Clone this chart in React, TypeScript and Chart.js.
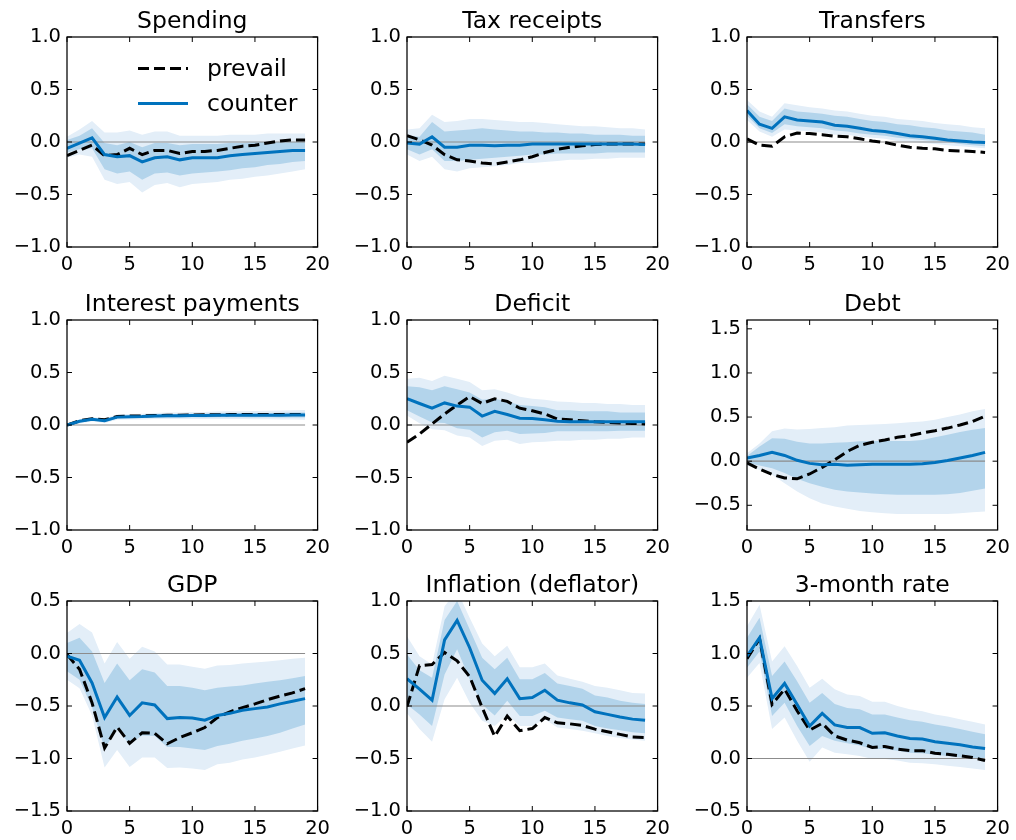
import React, { useEffect, useRef } from 'react';
import { Chart, registerables } from 'chart.js';

Chart.register(...registerables);

// Horizon (quarters after the shock)
const horizons = [0, 1, 2, 3, 4, 5, 6, 7, 8, 9, 10, 11, 12, 13, 14, 15, 16, 17, 18, 19];
const xTicks = [0, 5, 10, 15, 20];
const baseline = 0;

// Spending
const spendPrevail = [-0.13, -0.08, -0.03, -0.13, -0.12, -0.06, -0.12, -0.08, -0.08, -0.11, -0.09, -0.09, -0.08, -0.06, -0.04, -0.03, -0.01, 0.01, 0.02, 0.02];
const spendCounter = [-0.06, -0.01, 0.04, -0.12, -0.14, -0.13, -0.19, -0.15, -0.14, -0.17, -0.15, -0.15, -0.15, -0.13, -0.12, -0.11, -0.1, -0.09, -0.08, -0.08];
const spendHi90 = [0.05, 0.12, 0.2, 0.09, 0.09, 0.11, 0.07, 0.1, 0.1, 0.06, 0.06, 0.06, 0.06, 0.07, 0.07, 0.07, 0.08, 0.08, 0.08, 0.08];
const spendLo90 = [-0.15, -0.12, -0.14, -0.36, -0.4, -0.38, -0.48, -0.41, -0.39, -0.43, -0.4, -0.39, -0.38, -0.36, -0.35, -0.33, -0.32, -0.3, -0.28, -0.26];
const spendHi68 = [0.02, 0.06, 0.13, -0.01, -0.03, 0.0, -0.05, -0.01, -0.01, -0.03, -0.02, -0.02, -0.02, -0.01, -0.01, 0.0, 0.0, 0.0, 0.0, 0.0];
const spendLo68 = [-0.1, -0.07, -0.06, -0.26, -0.3, -0.28, -0.36, -0.3, -0.29, -0.32, -0.3, -0.29, -0.28, -0.27, -0.25, -0.24, -0.22, -0.21, -0.19, -0.18];

// Tax receipts
const taxPrevail = [0.06, 0.02, -0.03, -0.12, -0.17, -0.18, -0.2, -0.21, -0.19, -0.17, -0.14, -0.1, -0.07, -0.05, -0.035, -0.025, -0.02, -0.02, -0.02, -0.02];
const taxCounter = [-0.01, -0.02, 0.05, -0.05, -0.05, -0.03, -0.03, -0.035, -0.03, -0.03, -0.02, -0.02, -0.02, -0.02, -0.02, -0.02, -0.02, -0.02, -0.02, -0.025];
const taxHi90 = [0.12, 0.13, 0.26, 0.19, 0.2, 0.22, 0.22, 0.21, 0.2, 0.19, 0.19, 0.18, 0.17, 0.16, 0.15, 0.15, 0.14, 0.13, 0.13, 0.12];
const taxLo90 = [-0.12, -0.18, -0.14, -0.26, -0.28, -0.25, -0.24, -0.23, -0.22, -0.2, -0.2, -0.19, -0.18, -0.17, -0.17, -0.16, -0.16, -0.15, -0.15, -0.15];
const taxHi68 = [0.06, 0.05, 0.19, 0.1, 0.11, 0.12, 0.13, 0.12, 0.11, 0.1, 0.1, 0.09, 0.09, 0.08, 0.08, 0.07, 0.07, 0.07, 0.06, 0.06];
const taxLo68 = [-0.07, -0.12, -0.07, -0.18, -0.18, -0.17, -0.16, -0.15, -0.14, -0.13, -0.12, -0.12, -0.11, -0.11, -0.11, -0.11, -0.1, -0.1, -0.1, -0.1];

// Transfers
const trPrevail = [0.03, -0.03, -0.04, 0.05, 0.085, 0.08, 0.07, 0.055, 0.05, 0.03, 0.01, -0.005, -0.03, -0.05, -0.06, -0.065, -0.08, -0.085, -0.09, -0.1];
const trCounter = [0.3, 0.17, 0.13, 0.24, 0.21, 0.2, 0.19, 0.16, 0.15, 0.13, 0.11, 0.1, 0.08, 0.06, 0.05, 0.035, 0.02, 0.01, 0.0, -0.005];
const trHi90 = [0.4, 0.29, 0.24, 0.37, 0.35, 0.33, 0.32, 0.3, 0.29, 0.27, 0.25, 0.24, 0.22, 0.21, 0.2, 0.18, 0.17, 0.16, 0.14, 0.13];
const trLo90 = [0.21, 0.1, 0.05, 0.12, 0.11, 0.1, 0.09, 0.07, 0.07, 0.05, 0.04, 0.03, 0.01, 0.0, -0.01, -0.02, -0.03, -0.04, -0.05, -0.06];
const trHi68 = [0.36, 0.24, 0.2, 0.32, 0.29, 0.28, 0.27, 0.25, 0.24, 0.22, 0.2, 0.19, 0.17, 0.16, 0.14, 0.13, 0.11, 0.1, 0.09, 0.07];
const trLo68 = [0.25, 0.13, 0.085, 0.17, 0.15, 0.14, 0.13, 0.11, 0.1, 0.08, 0.07, 0.06, 0.04, 0.03, 0.02, 0.01, 0.0, -0.02, -0.03, -0.04];

// Interest payments
const intPrevail = [0.0, 0.04, 0.06, 0.05, 0.08, 0.085, 0.087, 0.09, 0.092, 0.094, 0.095, 0.097, 0.098, 0.099, 0.1, 0.1, 0.1, 0.1, 0.1, 0.1];
const intCounter = [0.0, 0.035, 0.055, 0.04, 0.075, 0.078, 0.08, 0.085, 0.087, 0.088, 0.09, 0.09, 0.092, 0.092, 0.093, 0.093, 0.094, 0.094, 0.095, 0.095];
const intHi90 = [0.01, 0.055, 0.075, 0.062, 0.1, 0.105, 0.108, 0.115, 0.118, 0.12, 0.123, 0.125, 0.128, 0.13, 0.132, 0.134, 0.136, 0.138, 0.14, 0.142];
const intLo90 = [-0.01, 0.015, 0.035, 0.02, 0.05, 0.052, 0.053, 0.056, 0.057, 0.057, 0.058, 0.057, 0.058, 0.057, 0.056, 0.055, 0.054, 0.053, 0.052, 0.05];
const intHi68 = [0.005, 0.045, 0.065, 0.051, 0.088, 0.092, 0.094, 0.1, 0.102, 0.104, 0.107, 0.108, 0.11, 0.111, 0.113, 0.114, 0.115, 0.116, 0.118, 0.119];
const intLo68 = [-0.005, 0.025, 0.045, 0.029, 0.062, 0.064, 0.066, 0.07, 0.072, 0.072, 0.073, 0.072, 0.074, 0.073, 0.073, 0.072, 0.073, 0.072, 0.072, 0.071];

// Deficit
const defPrevail = [-0.165, -0.085, 0.01, 0.105, 0.19, 0.27, 0.205, 0.25, 0.225, 0.16, 0.135, 0.105, 0.057, 0.05, 0.04, 0.03, 0.025, 0.02, 0.015, 0.01];
const defCounter = [0.25, 0.205, 0.16, 0.21, 0.18, 0.17, 0.085, 0.13, 0.1, 0.065, 0.063, 0.05, 0.035, 0.032, 0.03, 0.03, 0.03, 0.03, 0.03, 0.03];
const defHi90 = [0.44, 0.45, 0.42, 0.47, 0.44, 0.41, 0.33, 0.34, 0.31, 0.27, 0.25, 0.24, 0.225, 0.22, 0.21, 0.21, 0.2, 0.2, 0.19, 0.19];
const defLo90 = [0.09, 0.016, -0.04, -0.05, -0.1, -0.12, -0.2, -0.15, -0.14, -0.18, -0.165, -0.16, -0.15, -0.15, -0.14, -0.14, -0.13, -0.13, -0.12, -0.12];
const defHi68 = [0.37, 0.36, 0.33, 0.37, 0.34, 0.31, 0.24, 0.25, 0.225, 0.19, 0.18, 0.17, 0.14, 0.14, 0.13, 0.13, 0.13, 0.12, 0.12, 0.12];
const defLo68 = [0.14, 0.08, 0.025, 0.02, -0.03, -0.045, -0.12, -0.07, -0.055, -0.085, -0.08, -0.075, -0.06, -0.06, -0.06, -0.06, -0.06, -0.055, -0.055, -0.055];

// Debt
const debtPrevail = [-0.02, -0.09, -0.15, -0.19, -0.2, -0.145, -0.07, 0.015, 0.11, 0.18, 0.215, 0.24, 0.27, 0.29, 0.32, 0.345, 0.375, 0.41, 0.45, 0.51];
const debtCounter = [0.035, 0.065, 0.1, 0.065, 0.01, -0.025, -0.04, -0.035, -0.045, -0.04, -0.035, -0.035, -0.035, -0.035, -0.03, -0.015, 0.008, 0.035, 0.065, 0.1];
const debtHi90 = [0.09, 0.2, 0.34, 0.37, 0.36, 0.365, 0.375, 0.385, 0.405, 0.41, 0.415, 0.42, 0.43, 0.44, 0.45, 0.47, 0.5, 0.53, 0.565, 0.59];
const debtLo90 = [-0.05, -0.1, -0.155, -0.25, -0.345, -0.42, -0.48, -0.515, -0.54, -0.565, -0.58, -0.59, -0.6, -0.6, -0.6, -0.6, -0.6, -0.59, -0.58, -0.57];
const debtHi68 = [0.06, 0.165, 0.26, 0.255, 0.22, 0.2, 0.2, 0.21, 0.215, 0.225, 0.23, 0.23, 0.23, 0.23, 0.24, 0.27, 0.3, 0.33, 0.355, 0.375];
const debtLo68 = [-0.02, -0.05, -0.08, -0.135, -0.2, -0.25, -0.29, -0.325, -0.345, -0.355, -0.365, -0.375, -0.38, -0.38, -0.38, -0.38, -0.375, -0.36, -0.335, -0.31];

// GDP
const gdpPrevail = [-0.01, -0.15, -0.47, -0.9, -0.7, -0.855, -0.755, -0.76, -0.86, -0.8, -0.755, -0.705, -0.61, -0.555, -0.515, -0.48, -0.44, -0.405, -0.375, -0.335];
const gdpCounter = [-0.025, -0.065, -0.28, -0.61, -0.415, -0.59, -0.47, -0.49, -0.62, -0.61, -0.615, -0.635, -0.59, -0.57, -0.54, -0.525, -0.51, -0.48, -0.455, -0.43];
const gdpHi90 = [0.195, 0.28, 0.2, -0.095, 0.11, -0.05, 0.065, 0.02, -0.105, -0.105, -0.125, -0.145, -0.115, -0.11, -0.095, -0.085, -0.075, -0.065, -0.05, -0.04];
const gdpLo90 = [-0.25, -0.33, -0.59, -1.085, -0.92, -1.08, -0.99, -0.99, -1.09, -1.085, -1.095, -1.11, -1.055, -1.04, -1.01, -0.99, -0.965, -0.935, -0.905, -0.875];
const gdpHi68 = [0.1, 0.15, 0.02, -0.28, -0.095, -0.255, -0.15, -0.18, -0.31, -0.31, -0.325, -0.35, -0.325, -0.315, -0.305, -0.285, -0.27, -0.255, -0.235, -0.215];
const gdpLo68 = [-0.17, -0.25, -0.515, -0.905, -0.72, -0.865, -0.78, -0.785, -0.89, -0.89, -0.905, -0.92, -0.88, -0.86, -0.83, -0.81, -0.785, -0.755, -0.715, -0.675];

// Inflation (deflator)
const infPrevail = [-0.005, 0.385, 0.395, 0.51, 0.43, 0.28, -0.015, -0.29, -0.095, -0.235, -0.215, -0.11, -0.16, -0.17, -0.185, -0.22, -0.245, -0.27, -0.295, -0.3];
const infCounter = [0.26, 0.16, 0.055, 0.63, 0.815, 0.555, 0.245, 0.12, 0.26, 0.07, 0.08, 0.15, 0.055, 0.03, 0.01, -0.055, -0.08, -0.105, -0.125, -0.135];
const infHi90 = [0.665, 0.475, 0.395, 0.95, 1.1, 0.84, 0.595, 0.475, 0.575, 0.37, 0.37, 0.405, 0.29, 0.26, 0.23, 0.19, 0.175, 0.15, 0.125, 0.12];
const infLo90 = [-0.07, -0.22, -0.34, 0.065, 0.27, 0.03, -0.14, -0.19, -0.08, -0.19, -0.19, -0.125, -0.205, -0.22, -0.235, -0.26, -0.285, -0.305, -0.32, -0.33];
const infHi68 = [0.49, 0.34, 0.27, 0.82, 1.0, 0.73, 0.46, 0.35, 0.46, 0.255, 0.255, 0.315, 0.215, 0.19, 0.165, 0.1, 0.08, 0.05, 0.03, 0.02];
const infLo68 = [0.015, -0.08, -0.19, 0.3, 0.54, 0.255, 0.015, -0.09, 0.05, -0.095, -0.095, -0.045, -0.11, -0.125, -0.14, -0.19, -0.215, -0.23, -0.25, -0.26];

// 3-month rate
const ratePrevail = [0.95, 1.14, 0.515, 0.66, 0.455, 0.27, 0.335, 0.215, 0.175, 0.15, 0.105, 0.115, 0.09, 0.075, 0.075, 0.05, 0.04, 0.025, 0.01, -0.02];
const rateCounter = [0.975, 1.15, 0.57, 0.715, 0.515, 0.31, 0.43, 0.32, 0.295, 0.295, 0.24, 0.245, 0.215, 0.19, 0.185, 0.16, 0.145, 0.13, 0.11, 0.095];
const rateHi90 = [1.26, 1.465, 0.925, 1.07, 0.88, 0.675, 0.76, 0.66, 0.61, 0.595, 0.54, 0.54, 0.5, 0.47, 0.45, 0.42, 0.4, 0.375, 0.35, 0.325];
const rateLo90 = [0.77, 0.91, 0.28, 0.39, 0.17, -0.03, 0.105, 0.055, 0.04, 0.025, -0.005, -0.005, -0.02, -0.04, -0.045, -0.055, -0.07, -0.08, -0.095, -0.11];
const rateHi68 = [1.15, 1.34, 0.785, 0.925, 0.735, 0.53, 0.625, 0.52, 0.48, 0.47, 0.42, 0.42, 0.39, 0.365, 0.35, 0.325, 0.305, 0.28, 0.255, 0.23];
const rateLo68 = [0.865, 1.02, 0.405, 0.53, 0.31, 0.12, 0.215, 0.17, 0.145, 0.125, 0.09, 0.09, 0.075, 0.055, 0.05, 0.035, 0.025, 0.01, 0.0, -0.015];

const seriesNames = ['prevail', 'counter'];

// Styling
const FONT = '"DejaVu Sans", sans-serif';
const TICK_SIZE = 19.5;
const TITLE_SIZE = 23.5;
const BLUE = 'rgb(0,114,189)';
const BAND_OUTER = 'rgb(227,238,248)';
const BAND_INNER = 'rgb(179,212,235)';
const ZERO_GREY = '#8c8c8c';
const DASH = [11, 5];

// Panel geometry
const AXIS_W = 60;
const PAD_TOP = 36;
const PAD_RIGHT = 16;
const PLOT_W = 253;
const PLOT_H = 210;
const X_AXIS_H = 28;
const CANVAS_W = AXIS_W + PLOT_W + PAD_RIGHT;
const CANVAS_H = PAD_TOP + PLOT_H + X_AXIS_H;
const COL_LEFT = [67, 407, 747];
const ROW_TOP = [37, 320, 601];

type PanelSpec = {
  title: string;
  prevail: number[];
  counter: number[];
  hi90: number[];
  lo90: number[];
  hi68: number[];
  lo68: number[];
  yMin: number;
  yMax: number;
  row: number;
  col: number;
  legend?: boolean;
};

const panels: PanelSpec[] = [
  { title: 'Spending', prevail: spendPrevail, counter: spendCounter, hi90: spendHi90, lo90: spendLo90, hi68: spendHi68, lo68: spendLo68, yMin: -1, yMax: 1, row: 0, col: 0, legend: true },
  { title: 'Tax receipts', prevail: taxPrevail, counter: taxCounter, hi90: taxHi90, lo90: taxLo90, hi68: taxHi68, lo68: taxLo68, yMin: -1, yMax: 1, row: 0, col: 1 },
  { title: 'Transfers', prevail: trPrevail, counter: trCounter, hi90: trHi90, lo90: trLo90, hi68: trHi68, lo68: trLo68, yMin: -1, yMax: 1, row: 0, col: 2 },
  { title: 'Interest payments', prevail: intPrevail, counter: intCounter, hi90: intHi90, lo90: intLo90, hi68: intHi68, lo68: intLo68, yMin: -1, yMax: 1, row: 1, col: 0 },
  { title: 'Deficit', prevail: defPrevail, counter: defCounter, hi90: defHi90, lo90: defLo90, hi68: defHi68, lo68: defLo68, yMin: -1, yMax: 1, row: 1, col: 1 },
  { title: 'Debt', prevail: debtPrevail, counter: debtCounter, hi90: debtHi90, lo90: debtLo90, hi68: debtHi68, lo68: debtLo68, yMin: -0.78, yMax: 1.6, row: 1, col: 2 },
  { title: 'GDP', prevail: gdpPrevail, counter: gdpCounter, hi90: gdpHi90, lo90: gdpLo90, hi68: gdpHi68, lo68: gdpLo68, yMin: -1.5, yMax: 0.5, row: 2, col: 0 },
  { title: 'Inflation (deflator)', prevail: infPrevail, counter: infCounter, hi90: infHi90, lo90: infLo90, hi68: infHi68, lo68: infLo68, yMin: -1, yMax: 1, row: 2, col: 1 },
  { title: '3-month rate', prevail: ratePrevail, counter: rateCounter, hi90: rateHi90, lo90: rateLo90, hi68: rateHi68, lo68: rateLo68, yMin: -0.5, yMax: 1.5, row: 2, col: 2 },
];

const toPoints = (values: number[]) => values.map((y, i) => ({ x: horizons[i], y }));

const formatY = (v: number) => {
  const s = Math.abs(v).toFixed(1);
  return v < -1e-9 ? '\u2212' + s : s;
};

// Box, inward ticks on all four sides, title and (optionally) the legend
const decorations = (spec: PanelSpec) => ({
  id: 'decorations',
  afterDraw(chart: any) {
    const { ctx, chartArea: a, scales } = chart;
    ctx.save();
    ctx.strokeStyle = '#000';
    ctx.lineWidth = 1.25;
    ctx.strokeRect(a.left, a.top, a.right - a.left, a.bottom - a.top);

    const tl = 5;
    ctx.lineWidth = 1;
    ctx.beginPath();
    for (const t of scales.x.ticks) {
      const px = scales.x.getPixelForValue(t.value);
      ctx.moveTo(px, a.bottom);
      ctx.lineTo(px, a.bottom - tl);
      ctx.moveTo(px, a.top);
      ctx.lineTo(px, a.top + tl);
    }
    for (const t of scales.y.ticks) {
      const py = scales.y.getPixelForValue(t.value);
      ctx.moveTo(a.left, py);
      ctx.lineTo(a.left + tl, py);
      ctx.moveTo(a.right, py);
      ctx.lineTo(a.right - tl, py);
    }
    ctx.stroke();

    ctx.fillStyle = '#000';
    ctx.font = `${TITLE_SIZE}px ${FONT}`;
    ctx.textAlign = 'center';
    ctx.textBaseline = 'alphabetic';
    ctx.fillText(spec.title, (a.left + a.right) / 2, a.top - 9);

    if (spec.legend) {
      const rows = [
        { label: seriesNames[0], color: '#000', dash: DASH, dy: 31.5 },
        { label: seriesNames[1], color: BLUE, dash: [] as number[], dy: 66.5 },
      ];
      ctx.font = `${TITLE_SIZE}px ${FONT}`;
      ctx.textAlign = 'left';
      ctx.textBaseline = 'middle';
      for (const r of rows) {
        const y = a.top + r.dy;
        ctx.beginPath();
        ctx.setLineDash(r.dash);
        ctx.strokeStyle = r.color;
        ctx.lineWidth = 3;
        ctx.moveTo(a.left + 71, y);
        ctx.lineTo(a.left + 121, y);
        ctx.stroke();
        ctx.setLineDash([]);
        ctx.fillStyle = '#000';
        ctx.fillText(r.label, a.left + 140, y + 1);
      }
    }
    ctx.restore();
  },
});

function PanelChart({ spec }: { spec: PanelSpec }) {
  const ref = useRef<HTMLCanvasElement>(null);

  useEffect(() => {
    const canvas = ref.current;
    if (!canvas) return;
    const band = (data: number[], color: string, order: number, fill: any) => ({
      data: toPoints(data),
      borderWidth: 0,
      borderColor: 'transparent',
      backgroundColor: color,
      pointRadius: 0,
      fill,
      order,
    });
    const chart = new Chart(canvas, {
      type: 'line',
      data: {
        datasets: [
          band(spec.hi90, BAND_OUTER, 5, '+1'),
          band(spec.lo90, BAND_OUTER, 5, false),
          band(spec.hi68, BAND_INNER, 4, '+1'),
          band(spec.lo68, BAND_INNER, 4, false),
          {
            data: horizons.map((x) => ({ x, y: baseline })),
            borderColor: ZERO_GREY,
            borderWidth: 1.2,
            pointRadius: 0,
            fill: false,
            order: 3,
          },
          {
            label: seriesNames[0],
            data: toPoints(spec.prevail),
            borderColor: '#000',
            borderWidth: 3,
            borderDash: DASH,
            pointRadius: 0,
            fill: false,
            order: 2,
          },
          {
            label: seriesNames[1],
            data: toPoints(spec.counter),
            borderColor: BLUE,
            borderWidth: 3,
            pointRadius: 0,
            fill: false,
            order: 1,
          },
        ] as any,
      },
      options: {
        responsive: false,
        animation: false,
        devicePixelRatio: 1,
        events: [],
        layout: { padding: { top: PAD_TOP, right: PAD_RIGHT, left: 0, bottom: 0 } },
        elements: { line: { tension: 0 } },
        plugins: {
          legend: { display: false },
          tooltip: { enabled: false },
          title: { display: false },
        },
        scales: {
          x: {
            type: 'linear',
            min: 0,
            max: 20,
            grid: { display: false, drawTicks: false },
            border: { display: false },
            afterBuildTicks: (s: any) => {
              s.ticks = xTicks.map((value) => ({ value }));
            },
            ticks: {
              color: '#000',
              font: { family: FONT, size: TICK_SIZE },
              padding: 6,
              maxRotation: 0,
              autoSkip: false,
              callback: (v: any) => String(v),
            },
            afterFit: (s: any) => {
              s.height = X_AXIS_H;
            },
          },
          y: {
            type: 'linear',
            min: spec.yMin,
            max: spec.yMax,
            grid: { display: false, drawTicks: false },
            border: { display: false },
            ticks: {
              stepSize: 0.5,
              includeBounds: false,
              color: '#000',
              font: { family: FONT, size: TICK_SIZE },
              padding: 6,
              callback: (v: any) => formatY(Number(v)),
            },
            afterFit: (s: any) => {
              s.width = AXIS_W;
            },
          },
        },
      } as any,
      plugins: [decorations(spec)],
    });
    return () => chart.destroy();
  }, [spec]);

  return (
    <canvas
      ref={ref}
      width={CANVAS_W}
      height={CANVAS_H}
      style={{
        position: 'absolute',
        left: COL_LEFT[spec.col] - AXIS_W,
        top: ROW_TOP[spec.row] - PAD_TOP,
        width: CANVAS_W,
        height: CANVAS_H,
      }}
    />
  );
}

export default function App() {
  return (
    <div
      style={{
        position: 'absolute',
        left: 0,
        top: 0,
        width: 1016,
        height: 840,
        overflow: 'hidden',
        background: '#fff',
      }}
    >
      {panels.map((p) => (
        <PanelChart key={p.title} spec={p} />
      ))}
    </div>
  );
}
